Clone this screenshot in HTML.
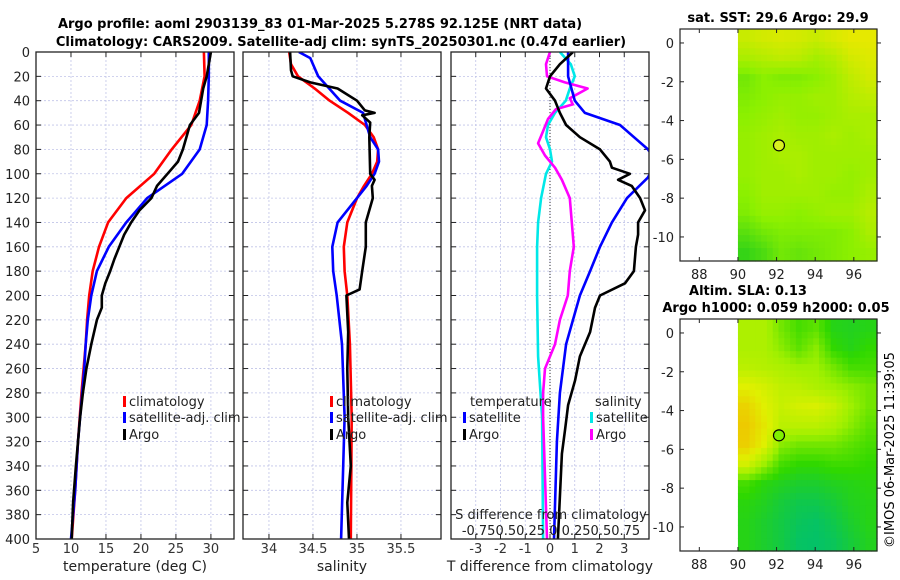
<!DOCTYPE html>
<html><head><meta charset="utf-8"><style>
body{margin:0;background:#fff;}
svg{display:block;font-family:"DejaVu Sans","Liberation Sans",sans-serif;}
</style></head><body>
<svg id="fig" width="900" height="580" viewBox="0 0 900 580" xmlns="http://www.w3.org/2000/svg">
<text x="320" y="28" text-anchor="middle" font-weight="bold" font-size="13">Argo profile: aoml 2903139_83 01-Mar-2025 5.278S 92.125E (NRT data)</text>
<text x="341" y="46" text-anchor="middle" font-weight="bold" font-size="13">Climatology: CARS2009. Satellite-adj clim: synTS_20250301.nc (0.47d earlier)</text>
<text x="778" y="22" text-anchor="middle" font-weight="bold" font-size="13">sat. SST: 29.6 Argo: 29.9</text>
<text x="748" y="295" text-anchor="middle" font-weight="bold" font-size="13">Altim. SLA: 0.13</text>
<text x="776" y="312" text-anchor="middle" font-weight="bold" font-size="13">Argo h1000: 0.059 h2000: 0.05</text>
<text transform="translate(894,450) rotate(-90)" font-size="13" text-anchor="middle">©IMOS 06-Mar-2025 11:39:05</text>
<g id="plots"></g>
</svg>
<script>
// ---- data (depth in m) ----
const climTdepth=[0,20,40,60,80,100,120,140,160,180,200,220,240,260,280,320,360,400];
const climT=[29.0,29.1,28.4,27.2,24.4,21.9,17.9,15.3,14.0,13.1,12.6,12.3,12.1,11.8,11.5,11.0,10.6,10.1];
const satTdepth=[0,20,40,60,80,100,120,140,160,180,200,220,240,260,280,320,360,400];
const satT=[29.7,29.7,29.6,29.4,28.4,25.9,20.9,17.9,15.4,13.7,12.9,12.4,12.1,11.9,11.6,11.0,10.6,10.0];
const argoTdepth=[0,20,30,40,50,60,80,90,100,110,120,130,140,150,160,170,180,190,200,210,220,240,260,280,300,340,370,400];
const argoT=[30.0,29.4,28.9,28.6,28.3,27.0,26.0,25.3,23.8,22.3,21.5,19.8,18.6,17.6,16.9,16.2,15.6,14.9,14.4,14.4,13.7,12.9,12.2,11.7,11.3,10.7,10.3,10.1];

const climSdepth=[0,10,20,30,40,50,60,70,80,90,100,110,120,140,160,180,200,240,300,400];
const climS=[34.23,34.25,34.33,34.52,34.69,34.90,35.09,35.19,35.24,35.23,35.17,35.08,35.0,34.89,34.85,34.86,34.89,34.92,34.94,34.93];
const satSdepth=[0,5,20,40,50,60,70,80,90,100,110,120,140,160,180,200,240,300,400];
const satS=[34.34,34.47,34.56,34.81,35.07,35.11,35.15,35.24,35.25,35.20,35.11,35.0,34.78,34.72,34.73,34.77,34.83,34.86,34.82];
const argoSdepth=[0,15,20,25,30,40,48,50,52,58,70,100,105,110,120,140,160,180,195,200,230,260,300,340,370,400];
const argoS=[34.24,34.25,34.27,34.47,34.78,35.0,35.09,35.2,35.06,35.15,35.14,35.15,35.2,35.17,35.18,35.1,35.1,35.06,35.03,34.88,34.9,34.89,34.9,34.93,34.89,34.91];

const dTsatDepth=[0,20,40,50,60,80,90,103,120,140,160,180,200,240,280,320,400];
const dTsat=[0.73,0.73,1.0,1.41,2.83,3.96,4.3,3.96,3.11,2.5,2.02,1.62,1.21,0.65,0.4,0.28,0.16];
const dTargoDepth=[0,10,20,30,40,50,60,70,80,90,95,100,105,110,120,130,140,150,160,180,190,200,210,230,250,270,290,310,330,400];
const dTargo=[0.93,0.4,0,-0.16,0.2,0.4,0.65,1.21,2.02,2.42,2.5,3.23,2.75,3.3,3.64,3.84,3.56,3.56,3.47,3.39,3.03,2.02,1.82,1.62,1.21,1.01,0.73,0.61,0.48,0.32];
const dSsatDepth=[0,10,20,30,40,50,60,70,80,90,100,120,140,160,200,250,300,400];
const dSsat=[0.10,0.21,0.25,0.2,0.16,0.05,-0.02,-0.04,0,0.02,-0.04,-0.09,-0.12,-0.13,-0.13,-0.12,-0.08,-0.07];
const dSargoDepth=[0,10,20,25,30,38,43,47,55,65,75,85,95,105,120,140,160,180,200,220,240,260,280,300,400];
const dSargo=[0,-0.04,-0.03,0.15,0.38,0.2,0.23,0.06,-0.02,-0.07,-0.12,-0.05,0.05,0.12,0.2,0.22,0.24,0.2,0.18,0.1,0.05,-0.05,-0.07,-0.07,-0.03];

const depthTicks=[0,20,40,60,80,100,120,140,160,180,200,220,240,260,280,300,320,340,360,380,400];
const tempTicks=[5,10,15,20,25,30];
const salTicks=[34,34.5,35,35.5];
const dTTicks=[-3,-2,-1,0,1,2,3];

// map grids (normalised colour value 0..1), rows from north (lat ~0.7) to south, cols from lon 90 to 97.2
const sstGrid=[
[0.80,0.85,0.88,0.85,0.80,0.88,0.95,0.95],
[0.65,0.70,0.75,0.72,0.62,0.70,0.85,0.90],
[0.40,0.50,0.45,0.45,0.50,0.60,0.75,0.85],
[0.45,0.50,0.55,0.55,0.60,0.60,0.70,0.75],
[0.50,0.55,0.60,0.55,0.55,0.60,0.65,0.65],
[0.55,0.60,0.65,0.60,0.60,0.65,0.60,0.65],
[0.55,0.60,0.65,0.65,0.60,0.60,0.60,0.60],
[0.55,0.60,0.60,0.65,0.60,0.60,0.55,0.60],
[0.50,0.60,0.60,0.60,0.60,0.55,0.55,0.65],
[0.45,0.55,0.55,0.50,0.55,0.60,0.60,0.70],
[0.30,0.40,0.45,0.45,0.45,0.45,0.50,0.65],
[0.15,0.25,0.40,0.35,0.40,0.45,0.50,0.55]];
const slaGrid=[
[0.55,0.55,0.40,0.30,0.35,0.20,0.18,0.20],
[0.55,0.55,0.45,0.35,0.45,0.25,0.20,0.25],
[0.60,0.58,0.55,0.50,0.50,0.40,0.30,0.30],
[0.75,0.70,0.62,0.60,0.55,0.50,0.45,0.40],
[0.90,0.75,0.65,0.70,0.72,0.65,0.50,0.40],
[0.95,0.80,0.60,0.60,0.60,0.55,0.45,0.35],
[0.92,0.75,0.45,0.40,0.40,0.40,0.35,0.30],
[0.70,0.50,0.30,0.25,0.25,0.28,0.28,0.25],
[0.30,0.22,0.18,0.15,0.15,0.18,0.20,0.22],
[0.22,0.18,0.12,0.08,0.08,0.12,0.18,0.20],
[0.20,0.15,0.10,0.05,0.03,0.08,0.15,0.20],
[0.20,0.15,0.10,0.03,0.02,0.05,0.12,0.18]];
const argoLon=92.125, argoLat=-5.278;

// ---- drawing ----
const NS="http://www.w3.org/2000/svg";
const root=document.getElementById('plots');
function mk(tag,attrs,parent){const e=document.createElementNS(NS,tag);for(const k in attrs)e.setAttribute(k,attrs[k]);(parent||root).appendChild(e);return e;}
const Y0=52,Y1=539;
const yD=d=>Y0+(d/400)*(Y1-Y0);
function panel(name,x0,x1,vmin,vmax){
  const sx=v=>x0+(v-vmin)/(vmax-vmin)*(x1-x0);
  const g=mk('g',{});
  
  
  return {g,sx,x0,x1};
}
function grid(p,xt){
  depthTicks.forEach(d=>{const l=mk('line',{x1:p.x0,x2:p.x1,y1:yD(d),y2:yD(d),stroke:'#c0c4e8','stroke-width':0.8,'stroke-dasharray':'2,2'},p.g);
    
    mk('line',{x1:p.x0,x2:p.x0+5,y1:yD(d),y2:yD(d),stroke:'#222'},p.g);mk('line',{x1:p.x1-5,x2:p.x1,y1:yD(d),y2:yD(d),stroke:'#222'},p.g);});
  xt.forEach(v=>{const x=p.sx(v);const l=mk('line',{x1:x,x2:x,y1:Y0,y2:Y1,stroke:'#c0c4e8','stroke-width':0.8,'stroke-dasharray':'2,2'},p.g);
    
    mk('line',{x1:x,x2:x,y1:Y1-5,y2:Y1,stroke:'#222'},p.g);mk('line',{x1:x,x2:x,y1:Y0,y2:Y0+5,stroke:'#222'},p.g);
    const t=mk('text',{x:x,y:553,'text-anchor':'middle','font-size':13,fill:'#333'},p.g);t.textContent=String(v);
    });
}
function frame(p){const r=mk('rect',{x:p.x0,y:Y0,width:p.x1-p.x0,height:Y1-Y0,fill:'none',stroke:'#222','stroke-width':1.3},p.g);
  }
function line(p,ds,vs,col,name,scale){
  scale=scale||1;
  const pts=ds.map((d,i)=>p.sx(vs[i]*scale).toFixed(1)+','+yD(d).toFixed(1)).join(' ');
  const cp=mk('clipPath',{id:'c'+name},p.g);mk('rect',{x:p.x0,y:Y0,width:p.x1-p.x0,height:Y1-Y0},cp);
  const l=mk('polyline',{points:pts,fill:'none',stroke:col,'stroke-width':2.6,'stroke-linejoin':'round','clip-path':'url(#c'+name+')'},p.g);
  
}
function txt(g,x,y,s,fs,name,anchor){const t=mk('text',{x:x,y:y,'font-size':fs,fill:'#222','text-anchor':anchor||'start'},g);t.textContent=s;
  return t;}
function legEntry(g,x,y,col,label,name){mk('rect',{x:x,y:y-10,width:3,height:11,fill:col},g);txt(g,x+6,y,label,13,name);}

// panel 1 temperature
const p1=panel('temperature-panel',36,234,5,33.3);
grid(p1,tempTicks);
depthTicks.forEach(d=>{txt(p1.g,30,yD(d)+5,String(d),13,'depth-tick-label','end');});
line(p1,climTdepth,climT,'#ff0000','climatology-temperature-line');
line(p1,satTdepth,satT,'#0000ff','satellite-temperature-line');
line(p1,argoTdepth,argoT,'#000000','argo-temperature-line');
frame(p1);
legEntry(p1.g,123,406,'#ff0000','climatology','legend-climatology');
legEntry(p1.g,123,422,'#0000ff','satellite-adj. clim','legend-satellite');
legEntry(p1.g,123,439,'#000000','Argo','legend-argo');
txt(p1.g,135,571,'temperature (deg C)',14,'x-axis-title-temperature','middle');

// panel 2 salinity
const p2=panel('salinity-panel',243,441,33.705,35.955);
grid(p2,salTicks);
line(p2,climSdepth,climS,'#ff0000','climatology-salinity-line');
line(p2,satSdepth,satS,'#0000ff','satellite-salinity-line');
line(p2,argoSdepth,argoS,'#000000','argo-salinity-line');
frame(p2);
legEntry(p2.g,330,406,'#ff0000','climatology','legend-climatology-sal');
legEntry(p2.g,330,422,'#0000ff','satellite-adj. clim','legend-satellite-sal');
legEntry(p2.g,330,439,'#000000','Argo','legend-argo-sal');
txt(p2.g,342,571,'salinity',14,'x-axis-title-salinity','middle');

// panel 3 differences
const p3=panel('difference-panel',451,649,-4,4);
grid(p3,dTTicks);
mk('line',{x1:p3.sx(0),x2:p3.sx(0),y1:Y0,y2:Y1,stroke:'#333','stroke-width':1,'stroke-dasharray':'1,2'},p3.g);
line(p3,dSsatDepth,dSsat,'#00e8e8','salinity-satellite-diff-line',4);
line(p3,dSargoDepth,dSargo,'#ff00ff','salinity-argo-diff-line',4);
line(p3,dTsatDepth,dTsat,'#0000ff','temperature-satellite-diff-line');
line(p3,dTargoDepth,dTargo,'#000000','temperature-argo-diff-line');
frame(p3);
txt(p3.g,470,406,'temperature',13,'legend-title-temperature');
txt(p3.g,595,406,'salinity',13,'legend-title-salinity');
legEntry(p3.g,463,422,'#0000ff','satellite','legend-temp-satellite');
legEntry(p3.g,463,439,'#000000','Argo','legend-temp-argo');
legEntry(p3.g,590,422,'#00e8e8','satellite','legend-sal-satellite');
legEntry(p3.g,590,439,'#ff00ff','Argo','legend-sal-argo');
txt(p3.g,551,519,'S difference from climatology',13,'s-axis-title','middle');
txt(p3.g,551,535,'-0.750.50.25 0  0.250.50.75',13,'s-axis-tick-labels','middle');
txt(p3.g,550,571,'T difference from climatology',14,'x-axis-title-tdiff','middle');

// maps
function colSST(t){const a=[[16,200,32],[140,240,0],[240,232,0]];return interp(a,t);}
function colSLA(t){const a=[[0,192,112],[48,216,0],[160,240,0],[224,240,0],[240,192,0]];return interp(a,t);}
function interp(a,t){t=Math.max(0,Math.min(1,t));const n=a.length-1,f=t*n,i=Math.min(n-1,Math.floor(f)),r=f-i;
  const c=a[i].map((v,k)=>Math.round(v+(a[i+1][k]-v)*r));return 'rgb('+c.join(',')+')';}
function map(name,top,bot,grid,cfn,dotCol){
  const x0=680,x1=877,lonMin=87,lonMax=97.2,latMax=0.72,latMin=-11.24;
  const sx=l=>x0+(l-lonMin)/(lonMax-lonMin)*(x1-x0);
  const sy=l=>top+(latMax-l)/(latMax-latMin)*(bot-top);
  const g=mk('g',{});
  const rows=grid.length,cols=grid[0].length,sub=3;
  const cw=(x1-sx(90))/cols,ch=(bot-top)/rows;
  for(let r=0;r<rows*sub;r++)for(let c=0;c<cols*sub;c++){
    const fr=Math.min(rows-1.001,Math.max(0,(r+0.5)/sub-0.5)),fc=Math.min(cols-1.001,Math.max(0,(c+0.5)/sub-0.5));
    const r0=Math.floor(fr),c0=Math.floor(fc),ar=fr-r0,ac=fc-c0;
    const v=grid[r0][c0]*(1-ar)*(1-ac)+grid[r0+1][c0]*ar*(1-ac)+grid[r0][c0+1]*(1-ar)*ac+grid[r0+1][c0+1]*ar*ac;
    const cell=mk('rect',{x:(sx(90)+c*cw/sub).toFixed(2),y:(top+r*ch/sub).toFixed(2),width:(cw/sub+0.6).toFixed(2),height:(ch/sub+0.6).toFixed(2),fill:cfn(v)},g);
    
  }
  [88,90,92,94,96].forEach(l=>{mk('line',{x1:sx(l),x2:sx(l),y1:bot-4,y2:bot,stroke:'#222'},g);mk('line',{x1:sx(l),x2:sx(l),y1:top,y2:top+4,stroke:'#222'},g);
    txt(g,sx(l),bot+18,String(l),13,'lon-tick-label','middle');});
  [0,-2,-4,-6,-8,-10].forEach(l=>{mk('line',{x1:x0,x2:x0+4,y1:sy(l),y2:sy(l),stroke:'#222'},g);mk('line',{x1:x1,x2:x1+4,y1:sy(l),y2:sy(l),stroke:'#222'},g);
    txt(g,x0-6,sy(l)+5,String(l),13,'lat-tick-label','end');});
  const fr=mk('rect',{x:x0,y:top,width:x1-x0,height:bot-top,fill:'none',stroke:'#222','stroke-width':1.2},g);
  
  const m=mk('circle',{cx:sx(argoLon),cy:sy(argoLat),r:5.5,fill:dotCol,stroke:'#000','stroke-width':1.2},g);
  
}
map('sst-map',29,261,sstGrid,colSST,'#d8f020');
map('sla-map',319,551,slaGrid,colSLA,'#80f000');
</script>
</body></html>
